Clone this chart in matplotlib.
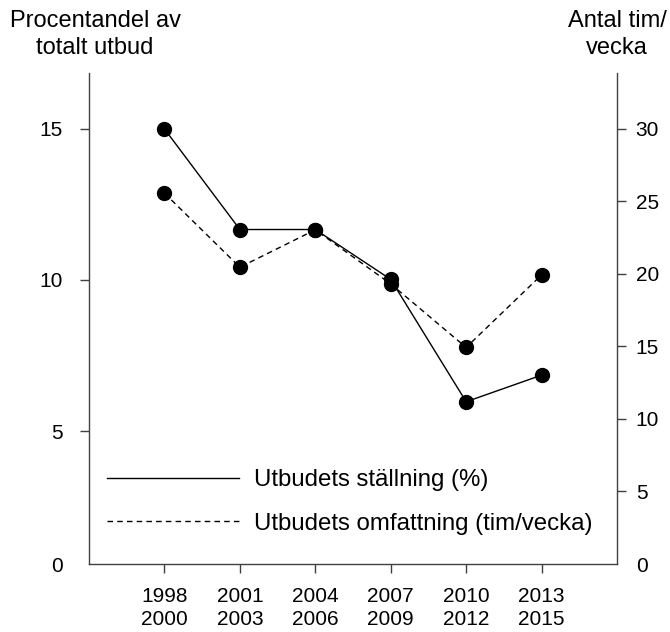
import matplotlib.pyplot as plt
from matplotlib.lines import Line2D

periods = ['1998\n2000', '2001\n2003', '2004\n2006', '2007\n2009', '2010\n2012', '2013\n2015']
stallning = [15.0, 11.67, 11.67, 10.02, 5.97, 6.85]        # procent av totalt utbud
omfattning = [25.57, 20.46, 23.04, 19.31, 14.93, 19.93]    # tim/vecka

left_ticks = [0.6, 5, 10, 15]
left_labels = ['0', '5', '10', '15']
right_ticks = [0, 5, 10, 15, 20, 25, 30]

plt.rcParams['font.family'] = ['Liberation Sans', 'DejaVu Sans']

fig = plt.figure(figsize=(6.7, 6.32), dpi=100)
ax = fig.add_axes([89 / 670, 68 / 632, 528 / 670, 491 / 632])
ax2 = ax.twinx()

x = list(range(len(periods)))
ax.plot(x, stallning, '-', color='black', lw=1.0, marker='o', ms=10, zorder=3)
ax2.plot(x, omfattning, '--', dashes=(4, 3), color='black', lw=1.0, marker='o', ms=10, zorder=3)

ax.set_xlim(-1, 6)
ax.set_ylim(0.6, 16.85)
ax2.set_ylim(0, 33.85)

ax.set_xticks(x)
ax.set_xticklabels(periods, fontsize=15, linespacing=1.3)
ax.set_yticks(left_ticks)
ax.set_yticklabels(left_labels, fontsize=15)
ax2.set_yticks(right_ticks)
ax2.set_yticklabels([str(t) for t in right_ticks], fontsize=15)

spine_col = '#404040'
for a in (ax, ax2):
    a.spines['top'].set_visible(False)
    for s in a.spines.values():
        s.set_color(spine_col)
        s.set_linewidth(1.0)
ax.spines['right'].set_visible(False)
ax2.spines['left'].set_visible(False)
ax2.spines['bottom'].set_visible(False)

ax.tick_params(axis='y', direction='out', length=6.5, width=1, color=spine_col, pad=12.5)
ax.tick_params(axis='x', direction='out', length=6.5, width=1, color=spine_col, pad=10)
ax2.tick_params(axis='y', direction='out', length=6.5, width=1, color=spine_col, pad=7)
ax.yaxis.get_major_ticks()[0].tick1line.set_visible(False)
ax2.yaxis.get_major_ticks()[0].tick2line.set_visible(False)

handles = [Line2D([], [], color='black', lw=1.0),
           Line2D([], [], color='black', lw=1.0, ls='--', dashes=(4, 3))]
ax2.legend(handles, ['Utbudets ställning (%)', 'Utbudets omfattning (tim/vecka)'],
           loc='lower left', bbox_to_anchor=(0.034, 0.06), frameon=False,
           fontsize=17.3, handlelength=5.5, handletextpad=0.6, labelspacing=0.9,
           borderpad=0, borderaxespad=0)

fig.text(95 / 670, 1 - 26.7 / 632, 'Procentandel av', ha='center', va='baseline', fontsize=17)
fig.text(95 / 670, 1 - 54.3 / 632, 'totalt utbud', ha='center', va='baseline', fontsize=17)
fig.text(617 / 670, 1 - 26.7 / 632, 'Antal tim/', ha='center', va='baseline', fontsize=17)
fig.text(617 / 670, 1 - 54.3 / 632, 'vecka', ha='center', va='baseline', fontsize=17)

fig.savefig('out.png', dpi=100)
